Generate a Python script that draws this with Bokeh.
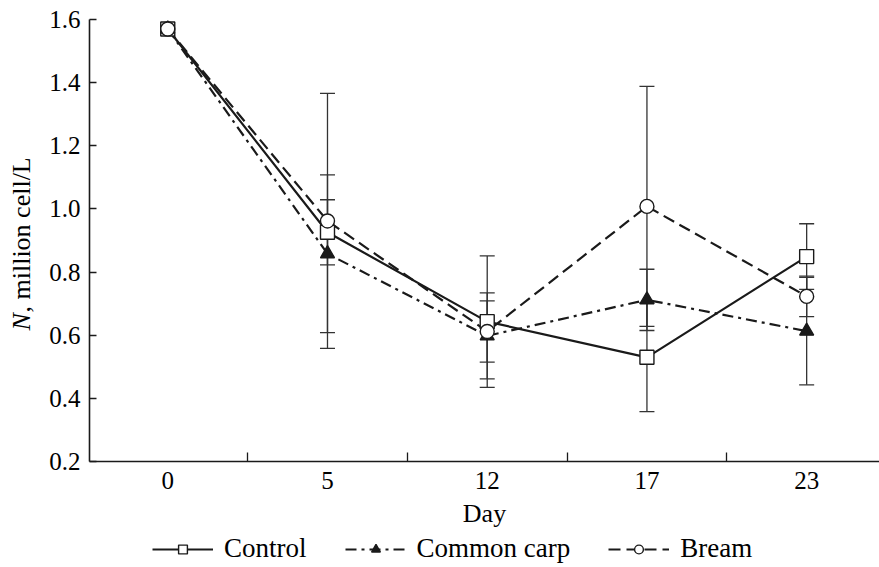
import math
from bokeh.plotting import figure
from bokeh.layouts import row, column
from bokeh.models import (Range1d, FixedTicker, Whisker, ColumnDataSource, Legend,
                          LegendItem, Label, TeeHead)
from bokeh.embed import file_html
from bokeh.resources import INLINE

# ---- data ----
days = ["0", "5", "12", "17", "23"]
control = [1.57, 0.926, 0.643, 0.530, 0.849]
control_err = [0.0, 0.103, 0.208, 0.172, 0.104]
carp = [1.57, 0.858, 0.598, 0.712, 0.613]
carp_err = [0.0, 0.250, 0.136, 0.097, 0.170]
bream = [1.57, 0.962, 0.612, 1.008, 0.723]
bream_err = [0.0, 0.404, 0.097, 0.380, 0.064]
y_ticks = [0.2, 0.4, 0.6, 0.8, 1.0, 1.2, 1.4, 1.6]
series_names = ["Control", "Common carp", "Bream"]

FONT = "Liberation Serif"
INK = "#1a1a1a"
NAN = float("nan")

xs = list(range(len(days)))

YLAB_W = 44
MAIN_H = 532
LEG_H = 567 - MAIN_H

# ---------------- main plot ----------------
p = figure(width=879 - YLAB_W, height=MAIN_H, output_backend="svg", toolbar_location=None,
           x_range=Range1d(-0.49, 4.456), y_range=Range1d(0.2, 1.6),
           min_border_left=89 - YLAB_W, min_border_right=0, min_border_top=19,
           min_border_bottom=MAIN_H - 461)
p.outline_line_color = None
p.xgrid.visible = False
p.ygrid.visible = False

xa = p.xaxis[0]
xa.ticker = FixedTicker(ticks=xs, minor_ticks=[i + 0.5 for i in xs[:-1]])
xa.major_label_overrides = {i: d for i, d in zip(xs, days)}
xa.major_tick_in = 0
xa.major_tick_out = 0
xa.minor_tick_in = 9
xa.minor_tick_out = 0
xa.minor_tick_line_color = INK
xa.minor_tick_line_width = 1.3
xa.axis_label = "Day"
xa.axis_label_text_font_style = "normal"

ya = p.yaxis[0]
ya.ticker = FixedTicker(ticks=y_ticks)
ya.major_label_overrides = {t: f"{t:.1f}" for t in y_ticks}
ya.major_tick_in = 7
ya.major_tick_out = 0
ya.minor_tick_in = 0
ya.minor_tick_out = 0

for ax in (xa, ya):
    ax.axis_line_color = INK
    ax.axis_line_width = 1.6
    ax.major_tick_line_color = INK
    ax.major_tick_line_width = 1.3
    ax.major_label_text_font = FONT
    ax.major_label_text_font_size = "25px"
    ax.major_label_text_color = "black"
    ax.axis_label_text_font = FONT
    ax.axis_label_text_font_size = "26px"
    ax.axis_label_text_color = "black"
xa.major_label_standoff = 10
xa.axis_label_standoff = 7
ya.major_label_standoff = 9

styles = {
    "Control": dict(dash="solid", marker="square", fill="white"),
    "Common carp": dict(dash="11 5 3 5", marker="triangle", fill=INK),
    "Bream": dict(dash="12 6", marker="circle", fill="white"),
}
series = [("Control", control, control_err), ("Common carp", carp, carp_err),
          ("Bream", bream, bream_err)]

# error bars
for name, vals, errs in series:
    bx = [x for x, e in zip(xs, errs) if e > 0]
    up = [v + e for v, e in zip(vals, errs) if e > 0]
    lo = [v - e for v, e in zip(vals, errs) if e > 0]
    src = ColumnDataSource(dict(x=bx, upper=up, lower=lo))
    p.add_layout(Whisker(base="x", upper="upper", lower="lower", source=src,
                         line_color="#333333", line_width=1.3,
                         upper_head=TeeHead(size=15, line_color="#333333", line_width=1.3),
                         lower_head=TeeHead(size=15, line_color="#333333", line_width=1.3)))

for name, vals, errs in series:
    st = styles[name]
    p.line(xs, vals, line_color=INK, line_width=2.2, line_dash=st["dash"])
for name, vals, errs in series:
    st = styles[name]
    p.scatter(xs, vals, marker=st["marker"], size=14, fill_color=st["fill"],
              line_color=INK, line_width=1.4)

# ---------------- y-axis title strip ----------------
yl = figure(width=YLAB_W, height=MAIN_H, output_backend="svg", toolbar_location=None,
            x_range=Range1d(0, 1), y_range=Range1d(0, 1), min_border=0,
            x_axis_location=None, y_axis_location=None)
yl.grid.visible = False
yl.outline_line_color = None
N_START = 131
yl.add_layout(Label(x=21, y=N_START, x_units="screen", y_units="screen", text="N",
                    angle=math.pi / 2, text_font=FONT, text_font_size="26px",
                    text_font_style="italic", text_align="left", text_baseline="middle",
                    text_color="black"))
yl.add_layout(Label(x=21, y=N_START + 18, x_units="screen", y_units="screen",
                    text=", million cell/L", angle=math.pi / 2, text_font=FONT,
                    text_font_size="26px", text_align="left", text_baseline="middle",
                    text_color="black"))

# ---------------- legend strip ----------------
lg = figure(width=879, height=LEG_H, output_backend="svg", toolbar_location=None,
            x_range=Range1d(0, 1), y_range=Range1d(0, 1), min_border=0,
            x_axis_location=None, y_axis_location=None)
lg.grid.visible = False
lg.outline_line_color = None
items = []
for name in series_names:
    st = styles[name]
    r1 = lg.line([NAN], [NAN], line_color=INK, line_width=2.2, line_dash=st["dash"])
    r2 = lg.scatter([NAN], [NAN], marker=st["marker"], size=14, fill_color=st["fill"],
                    line_color=INK, line_width=1.4)
    items.append(LegendItem(label=name, renderers=[r1, r2]))
legend = Legend(items=items, orientation="horizontal", location=(150, 1),
                label_text_font=FONT, label_text_font_size="27px", label_text_color="black",
                glyph_width=61, glyph_height=22, spacing=38, padding=2, margin=0,
                border_line_alpha=0, background_fill_alpha=0, label_standoff=11)
lg.add_layout(legend, "center")

layout = column(row(yl, p), lg)
open("out.html", "w").write(file_html(layout, INLINE))
